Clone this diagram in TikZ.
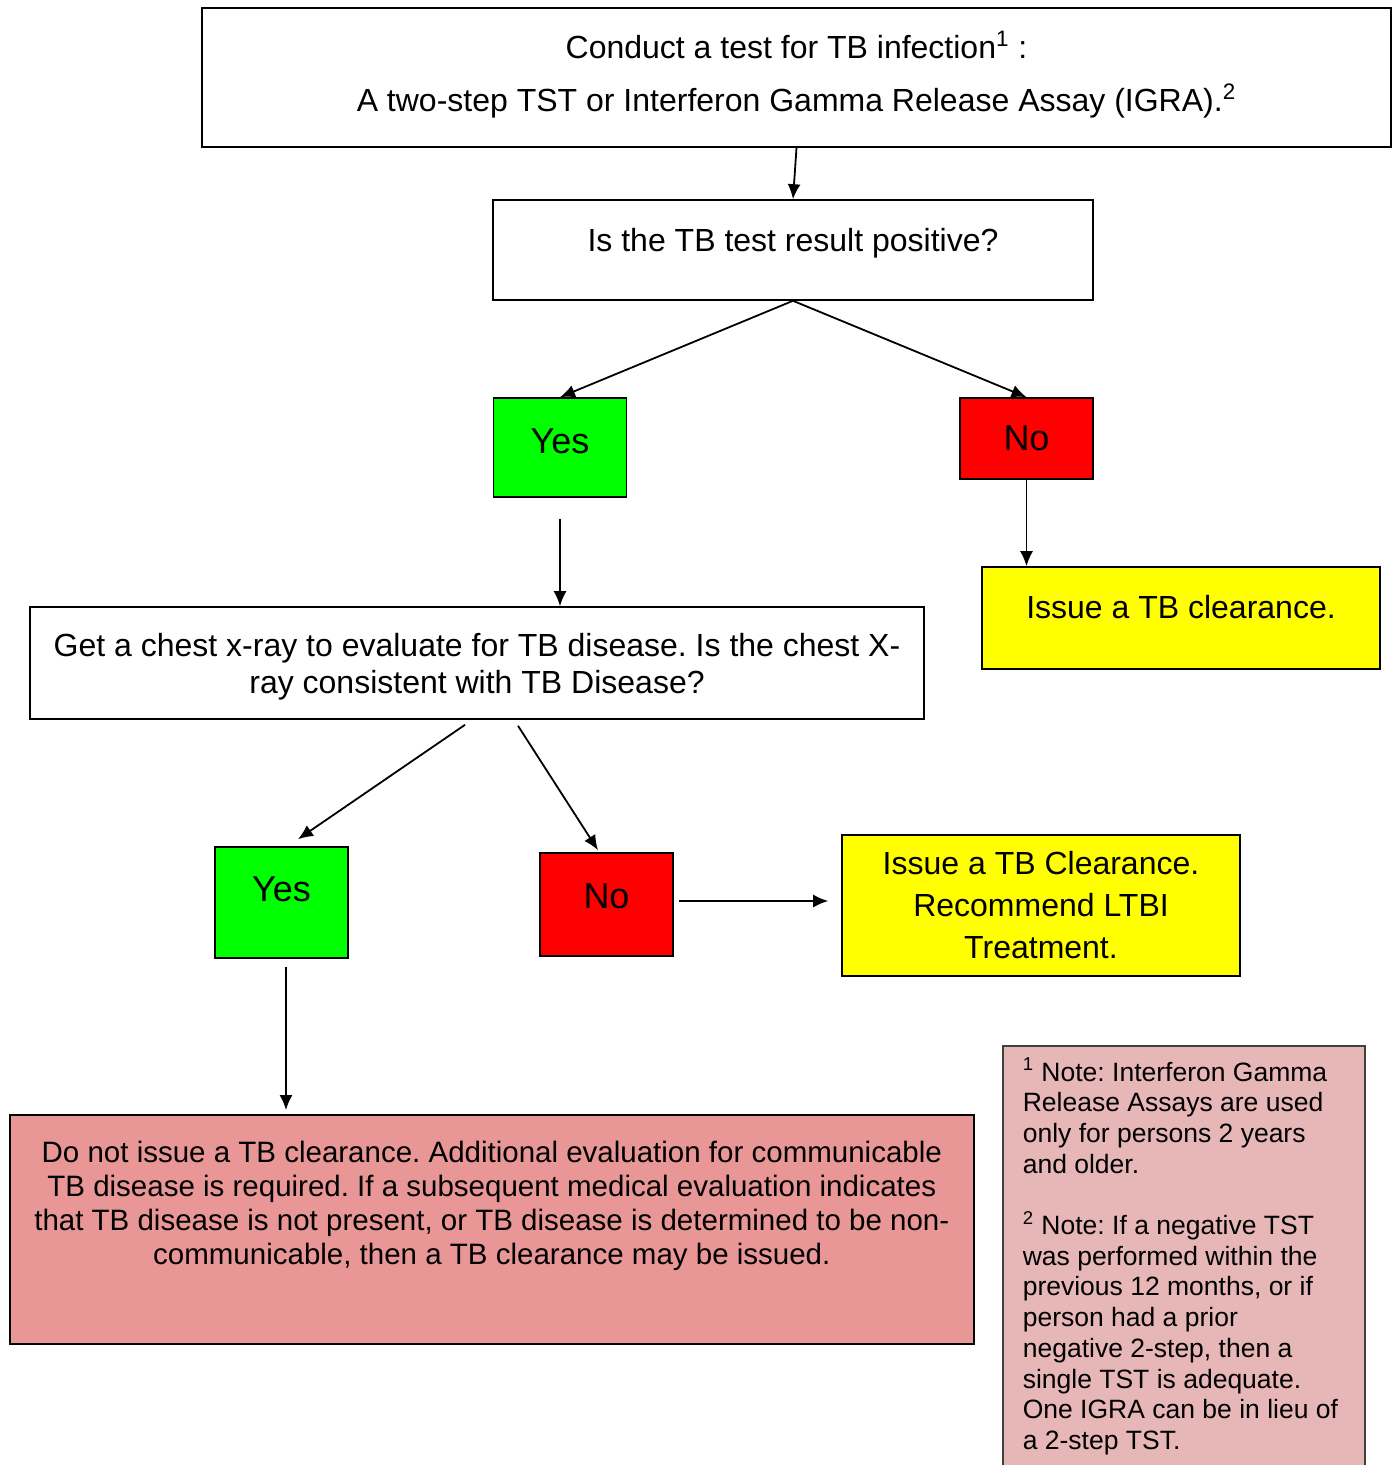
\documentclass[tikz,border=0pt]{standalone}
\usepackage{fontspec}
\setmainfont{Liberation Sans}
\frenchspacing
\usetikzlibrary{arrows.meta,positioning,calc}
\definecolor{yesGreen}{RGB}{0,255,0}
\definecolor{noRed}{RGB}{255,0,0}
\definecolor{okYellow}{RGB}{255,255,0}
\definecolor{denyPink}{RGB}{232,150,150}
\definecolor{notePink}{RGB}{230,183,182}

\begin{document}
\begin{tikzpicture}[x=0.5pt,y=-0.5pt,
        box/.style={draw,line width=0.8pt,align=center,inner sep=0pt,font=\fontsize{16}{18.4}\selectfont},
        yesbox/.style={box,fill=yesGreen,minimum width=66.5pt,font=\fontsize{18}{21}\selectfont},
        nobox/.style={box,fill=noRed,minimum width=66.5pt,font=\fontsize{18}{21}\selectfont},
        okbox/.style={box,fill=okYellow,minimum width=199pt},
        arrow/.style={-{Latex[length=7.5pt,width=6.5pt]},line width=0.9pt}
      ]
        \useasboundingbox (0,0) rectangle (1394,1465);
        % test and question
        \node[box,minimum width=594.5pt,minimum height=69.5pt] (test) at (796.5,77.5)
          {Conduct a test for TB infection\textsuperscript{1} :\\[8.1pt]
           A two-step TST or Interferon Gamma Release Assay (IGRA).\textsuperscript{2}\rule[-6.4pt]{0pt}{1pt}};
        \node[box,minimum width=300pt,minimum height=50pt,text depth=10pt] (pos) at (793,250) {Is the TB test result positive?};
        \node[yesbox,minimum height=49.5pt,text depth=6pt] (yes1) at (560,447.5) {Yes};
        \node[nobox,minimum height=40.5pt] (no1) at (1026.5,438.5) {No};
        \node[okbox,minimum height=51pt,text depth=11pt] (clear1) at (1181,618) {Issue a TB clearance.};
        % chest x-ray
        \node[box,minimum width=447pt,minimum height=56pt] (xray) at (477,663)
          {\rule{0pt}{15pt}Get a chest x-ray to evaluate for TB disease. Is the chest X-\\ray consistent with TB Disease?};
        \node[yesbox,minimum height=55.5pt,text depth=13pt] (yes2) at (281.5,902.5) {Yes};
        \node[nobox,minimum height=51.5pt,text depth=8pt] (no2) at (606.5,904.5) {No};
        \node[okbox,minimum height=70.5pt,font=\fontsize{16}{21}\selectfont] (clear2) at (1041,905.5)
          {Issue a TB Clearance.\\Recommend LTBI\\Treatment.};
        \node[box,fill=denyPink,anchor=north west] (deny) at (9,1114)
          {\parbox[c][114.5pt][t]{482pt}{\centering\fontsize{14.75}{17}\selectfont\vspace*{13pt}%
           Do not issue a TB clearance. Additional evaluation for communicable\\
           TB disease is required. If a subsequent medical evaluation indicates\\
           that TB disease is not present, or TB disease is determined to be non-\\
           communicable, then a TB clearance may be issued.}};
        % footnotes
        \node[box,fill=notePink,draw=black!75,anchor=north west,inner xsep=10pt] (notes) at (1002,1045)
          {\parbox[c][216pt][t]{161pt}{\raggedright\fontsize{13.25}{15.35}\selectfont\vspace*{6pt}%
           \textsuperscript{1} Note: Interferon Gamma\\
           Release Assays are used\\
           only for persons 2 years\\
           and older.\\[15.35pt]
           \textsuperscript{2} Note: If a negative TST\\
           was performed within the\\
           previous 12 months, or if\\
           person had a prior\\
           negative 2-step, then a\\
           single TST is adequate.\\
           One IGRA can be in lieu of\\
           a 2-step TST.}};
        \coordinate (yd) at ($(yes2.south)+(4.5,0)$);
        \coordinate (nc) at ($(no2.east)+(0,-3.5)$);
        \draw[arrow] (test.south) -- (pos.north);
        \draw[arrow] (pos.south) -- (yes1.north);
        \draw[arrow] (pos.south) -- (no1.north);
        \draw[arrow] (no1.south) -- (no1.south |- clear1.north);
        \draw[arrow,shorten <=10.5pt] (yes1.south) -- (yes1.south |- xray.north);
        \draw[arrow] ($(xray.south)+(-12,5)$) -- ($(yes2.north)+(16.5,-7)$);
        \draw[arrow] ($(xray.south)+(41,6)$) -- ($(no2.north)+(-8.5,-2)$);
        \draw[arrow,shorten <=2.5pt,shorten >=6.5pt] (nc) -- (clear2.west |- nc);
        \draw[arrow,shorten <=4pt,shorten >=2pt] (yd) -- (yd |- deny.north);
      \end{tikzpicture}
\end{document}
